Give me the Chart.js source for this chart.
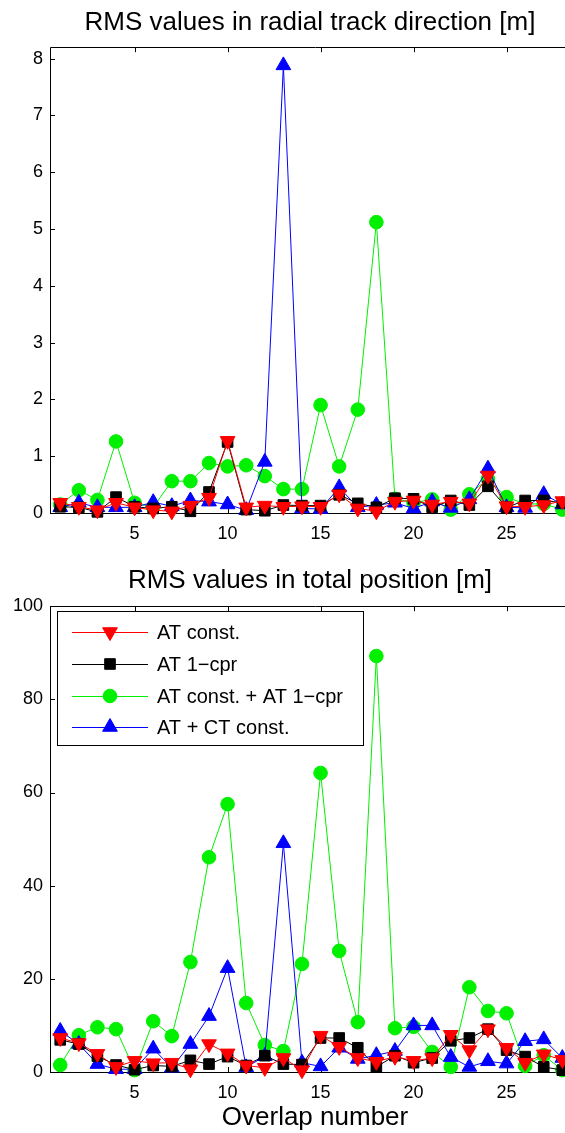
<!DOCTYPE html>
<html>
<head>
<meta charset="utf-8">
<script src="https://cdn.jsdelivr.net/npm/chart.js@4.4.1/dist/chart.umd.min.js"></script>
<style>
html, body { margin: 0; padding: 0; background: #fff; overflow: hidden; width: 565px; height: 1133px; }
canvas { position: absolute; left: 0; }
#radialChart { top: 0; }
#totalChart { top: 560px; }
</style>
</head>
<body>
<canvas id="radialChart" width="580" height="560"></canvas>
<canvas id="totalChart" width="580" height="573"></canvas>
<script>
// overlap numbers
const overlap = [1,2,3,4,5,6,7,8,9,10,11,12,13,14,15,16,17,18,19,20,21,22,23,24,25,26,27,28];

const seriesNames = ['AT const.', 'AT 1\u2212cpr', 'AT const. + AT 1\u2212cpr', 'AT + CT const.'];

// RMS in radial track direction [m]
const radialATconst = [0.18,0.11,0.05,0.18,0.10,0.05,0.03,0.13,0.27,1.27,0.10,0.13,0.11,0.12,0.11,0.33,0.08,0.03,0.20,0.22,0.15,0.20,0.17,0.66,0.12,0.11,0.14,0.21];
const radial1cpr    = [0.11,0.10,0.02,0.28,0.11,0.08,0.11,0.03,0.37,1.25,0.06,0.04,0.14,0.13,0.13,0.32,0.17,0.10,0.26,0.25,0.10,0.22,0.14,0.47,0.10,0.22,0.22,0.18];
const radialBoth    = [0.15,0.40,0.23,1.26,0.18,0.10,0.56,0.56,0.88,0.82,0.84,0.65,0.42,0.42,1.90,0.82,1.82,5.12,0.25,0.18,0.24,0.06,0.33,0.60,0.28,0.16,0.16,0.06];
const radialATCT    = [0.10,0.18,0.10,0.10,0.10,0.19,0.12,0.22,0.20,0.15,0.05,0.90,7.88,0.08,0.07,0.45,0.10,0.14,0.18,0.08,0.20,0.09,0.24,0.78,0.10,0.09,0.33,0.15];

// RMS in total position [m]
const totalATconst = [7.3,6.2,3.9,1.1,2.4,1.9,2.0,0.6,6.0,4.0,1.4,0.9,3.0,0.4,7.8,5.4,3.0,2.2,3.3,2.4,3.0,8.0,4.7,9.2,5.2,2.0,3.8,2.6];
const total1cpr    = [6.9,6.0,3.4,1.5,0.5,1.4,1.2,2.5,1.7,3.3,1.4,3.5,1.7,1.6,7.3,7.3,5.2,1.1,3.5,2.0,3.0,6.7,7.3,9.2,4.7,3.3,1.1,0.4];
const totalBoth    = [1.5,7.9,9.6,9.2,0.4,10.9,7.7,23.6,46.1,57.5,14.8,5.8,4.5,23.2,64.2,26.0,10.7,89.3,9.4,9.7,4.3,1.1,18.2,13.1,12.6,1.3,3.6,0.4];
const totalATCT    = [8.8,6.0,1.7,0.6,0.6,5.0,0.9,6.0,12.0,22.3,1.0,3.4,49.1,2.0,1.2,5.2,2.8,3.6,4.5,10.0,10.0,3.2,1.1,2.3,1.8,6.6,7.0,3.0];

const xTickVals = [5,10,15,20,25];
const radialTickVals = [0,1,2,3,4,5,6,7,8];
const totalTickVals = [0,20,40,60,80,100];

const FONT = '"Liberation Sans", Arial, Helvetica, sans-serif';

const styles = [
  { color: '#ff0000', pointStyle: 'triangle', rotation: 180, radius: 8.5, order: 0 },
  { color: '#000000', pointStyle: 'rect', rotation: 0, radius: 7.5, order: 1 },
  { color: '#00f000', pointStyle: 'circle', rotation: 0, radius: 6.8, order: 3 },
  { color: '#0000ff', pointStyle: 'triangle', rotation: 0, radius: 8.5, order: 2 }
];

function makeDatasets(list) {
  return list.map((vals, i) => ({
    label: seriesNames[i],
    data: overlap.map((x, j) => ({ x: x, y: vals[j] })),
    borderColor: styles[i].color,
    backgroundColor: styles[i].color,
    pointBackgroundColor: styles[i].color,
    pointBorderColor: styles[i].color,
    pointStyle: styles[i].pointStyle,
    pointRotation: styles[i].rotation,
    pointRadius: styles[i].radius,
    pointBorderWidth: 1,
    borderWidth: 1,
    tension: 0,
    clip: false,
    order: styles[i].order
  }));
}

// axes box with inward ticks, matlab style
const frame = {
  id: 'frame',
  afterLayout(chart) {
    // title sits a bit right of the canvas centre in the original
    if (chart.titleBlock) { chart.titleBlock.left += 20; chart.titleBlock.right += 20; }
  },
  beforeDatasetsDraw(chart) {
    const ctx = chart.ctx;
    const a = chart.chartArea;
    const xs = chart.scales.x, ys = chart.scales.y;
    ctx.save();
    ctx.strokeStyle = '#000';
    ctx.lineWidth = 1;
    ctx.beginPath();
    ctx.rect(Math.round(a.left) + 0.5, Math.round(a.top) + 0.5, Math.round(a.right - a.left), Math.round(a.bottom - a.top));
    xs.ticks.forEach(t => {
      const px = Math.round(xs.getPixelForValue(t.value)) + 0.5;
      ctx.moveTo(px, a.bottom); ctx.lineTo(px, a.bottom - 5);
      ctx.moveTo(px, a.top); ctx.lineTo(px, a.top + 5);
    });
    ys.ticks.forEach(t => {
      const py = Math.round(ys.getPixelForValue(t.value)) + 0.5;
      ctx.moveTo(a.left, py); ctx.lineTo(a.left + 5, py);
      ctx.moveTo(a.right, py); ctx.lineTo(a.right - 5, py);
    });
    ctx.stroke();
    ctx.restore();
  }
};

function drawMarker(ctx, st, x, y) {
  if (Chart.helpers && Chart.helpers.drawPoint) {
    ctx.fillStyle = st.color;
    ctx.strokeStyle = st.color;
    ctx.lineWidth = 1;
    Chart.helpers.drawPoint(ctx, { pointStyle: st.pointStyle, radius: st.radius, rotation: st.rotation, borderWidth: 1 }, x, y);
  }
}

const legendBox = {
  id: 'legendBox',
  afterDraw(chart) {
    const ctx = chart.ctx;
    ctx.save();
    ctx.fillStyle = '#fff';
    ctx.fillRect(57, 51, 306, 134);
    ctx.strokeStyle = '#000';
    ctx.lineWidth = 1;
    ctx.strokeRect(57.5, 51.5, 306, 134);
    const rows = [72, 104, 136, 167];
    seriesNames.forEach((name, i) => {
      const st = styles[i];
      ctx.beginPath();
      ctx.strokeStyle = st.color;
      ctx.moveTo(72, rows[i] + 0.5);
      ctx.lineTo(148, rows[i] + 0.5);
      ctx.stroke();
      drawMarker(ctx, st, 110, rows[i]);
      ctx.fillStyle = '#000';
      ctx.font = '20px ' + FONT;
      ctx.textBaseline = 'middle';
      ctx.textAlign = 'left';
      ctx.fillText(name, 157, rows[i] + 1);
    });
    ctx.restore();
  }
};

function makeChart(id, titleText, seriesList, yMax, yTicks, xTitle, pad) {
  return new Chart(document.getElementById(id), {
    type: 'line',
    data: { datasets: makeDatasets(seriesList) },
    options: {
      responsive: false,
      animation: false,
      devicePixelRatio: 1,
      layout: { padding: 0, autoPadding: false },
      plugins: {
        legend: { display: false },
        tooltip: { enabled: false },
        title: {
          display: true,
          text: titleText,
          color: '#000',
          font: { family: FONT, size: 26, weight: 'normal' },
          padding: pad
        }
      },
      scales: {
        x: {
          type: 'linear',
          min: 0.45,
          max: 28.95,
          grid: { display: false, drawTicks: false },
          border: { display: false },
          ticks: { color: '#000', font: { family: FONT, size: 18 }, padding: 10, autoSkip: false, maxRotation: 0 },
          afterBuildTicks: s => { s.ticks = xTickVals.map(v => ({ value: v })); },
          afterFit: s => { s.height = xTitle ? 61 : 47; s.paddingLeft = 0; s.paddingRight = 0; },
          title: xTitle ? { display: true, text: xTitle, color: '#000', font: { family: FONT, size: 26 }, padding: 0 } : { display: false }
        },
        y: {
          min: 0,
          max: yMax,
          grid: { display: false, drawTicks: false },
          border: { display: false },
          ticks: { color: '#000', font: { family: FONT, size: 18 }, padding: 7 },
          afterBuildTicks: s => { s.ticks = yTicks.map(v => ({ value: v })); },
          afterFit: s => { s.width = 50; s.paddingTop = 0; s.paddingBottom = 0; }
        }
      }
    },
    plugins: xTitle ? [frame, legendBox] : [frame]
  });
}

makeChart('radialChart', 'RMS values in radial track direction [m]',
  [radialATconst, radial1cpr, radialBoth, radialATCT], 8.2, radialTickVals, null, { top: 7, bottom: 9 });

makeChart('totalChart', 'RMS values in total position [m]',
  [totalATconst, total1cpr, totalBoth, totalATCT], 100, totalTickVals, 'Overlap number', { top: 5, bottom: 10 });
</script>
</body>
</html>
